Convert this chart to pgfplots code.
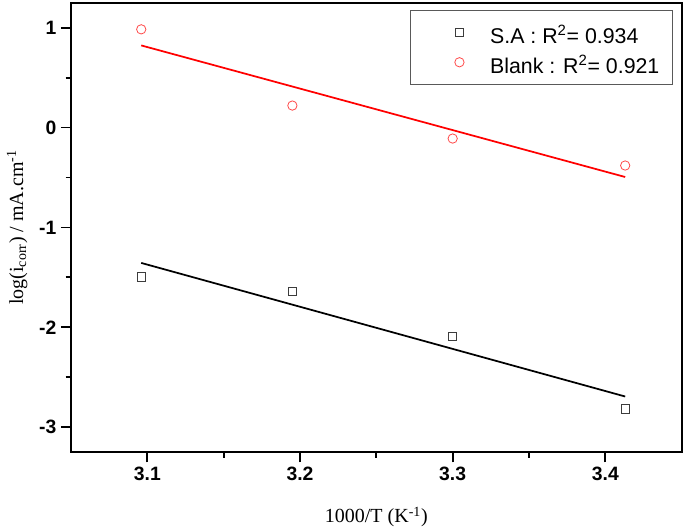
\documentclass[border=0pt]{standalone}
\usepackage{fontspec}
\setmainfont{Liberation Serif}
\newfontfamily\arial{Liberation Sans}
\usepackage{pgfplots}
\pgfplotsset{compat=1.18}
\definecolor{circRed}{HTML}{FF4A4A}
\definecolor{sqGray}{HTML}{3C3C3C}
% legend image: the mark alone, set in from the left and a little low
\pgfplotsset{shiftleg/.style={legend image code/.code={\path[draw=none,fill=none] (0pt,0pt) -- (50pt,6pt); \draw[##1,overlay] plot coordinates {(29pt,0pt)};}}}

\begin{document}
\begin{tikzpicture}
\begin{axis}[
    scale only axis,
    width=458pt, height=337.2pt,
    xmin=3.05, xmax=3.45, ymin=-3.25, ymax=1.25,
    xtick={3.1,3.2,3.3,3.4}, ytick={-3,-2,-1,0,1},
    minor x tick num=1, minor y tick num=1,
    tick align=outside, xtick pos=bottom, ytick pos=left,
    major tick length=7.5pt, minor tick length=4pt,
    every tick/.append style={black, line width=1.4pt},
    axis line style={line width=1.5pt},
    tick label style={font=\arial\bfseries\fontsize{14.5}{16}\selectfont},
    /pgf/number format/assume math mode=true,
    xticklabel style={/pgf/number format/.cd, fixed, precision=1},
    label style={font=\fontsize{15}{18}\selectfont},
    xlabel={1000/T (K\textsuperscript{-1})},
    ylabel={log(i\textsubscript{corr}) / mA.cm\textsuperscript{-1}},
    xlabel style={at={(axis description cs:0.5,-0.144)}, anchor=center},
    ylabel style={at={(axis description cs:-0.088,0.5)}, anchor=center},
    legend cell align=left,
    legend style={at={(0.986,0.984)}, anchor=north east,
        draw=black!65, line width=0.6pt,
        font=\arial\fontsize{16}{19}\selectfont,
        inner xsep=8pt, inner ysep=6pt, row sep=1.5pt,
        nodes={inner sep=2pt, text height=17pt, text depth=0pt}},
]
% fitted lines
\addplot[black, line width=1.3pt, forget plot] coordinates {(3.096,-1.355) (3.413,-2.692)};
\addplot[red, line width=1.3pt, forget plot] coordinates {(3.096,0.822) (3.413,-0.495)};
% measured points
\addplot[only marks, mark=square, mark size=3.1pt, sqGray, mark options={line width=0.6pt}, shiftleg]
    coordinates {(3.096,-1.494) (3.195,-1.637) (3.300,-2.087) (3.413,-2.817)};
\addlegendentry{S.A : R\textsuperscript{2}= 0.934}
\addplot[only marks, mark=o, mark size=3.5pt, circRed, mark options={line width=0.6pt}, shiftleg]
    coordinates {(3.096,0.983) (3.195,0.220) (3.300,-0.110) (3.413,-0.380)};
\addlegendentry{Blank : R\textsuperscript{2}= 0.921}
\end{axis}
\path ([shift={(-53.25pt,-56pt)}]current axis.south west) rectangle ([shift={(2.5pt,2pt)}]current axis.north east);
\end{tikzpicture}
\end{document}
